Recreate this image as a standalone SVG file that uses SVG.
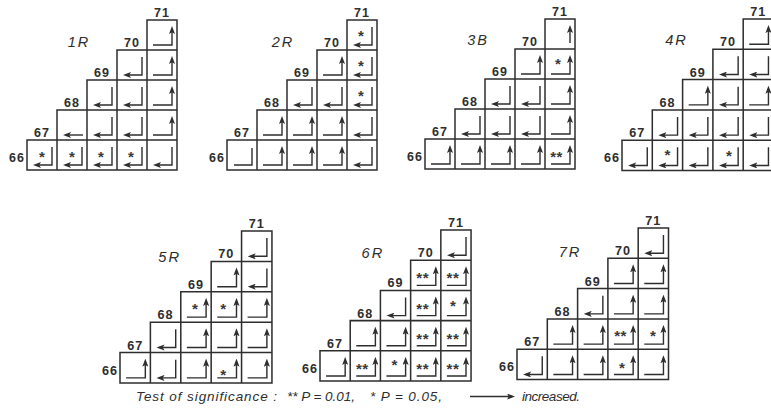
<svg xmlns="http://www.w3.org/2000/svg" width="771" height="416" viewBox="0 0 771 416">
<style>
.grid{fill:none;stroke:#2e2e2e;stroke-width:1.5}
.ar{fill:none;stroke:#2e2e2e;stroke-width:1.4}
.lab{font-family:"Liberation Sans",Arial,sans-serif;font-size:12.5px;font-weight:bold;fill:#2e2e2e;text-anchor:middle;letter-spacing:1px}
.lab66{font-family:"Liberation Sans",Arial,sans-serif;font-size:12.5px;font-weight:bold;fill:#2e2e2e;text-anchor:end;letter-spacing:1px}
.ttl{font-family:"Liberation Sans",Arial,sans-serif;font-size:14.5px;font-style:italic;fill:#2e2e2e;text-anchor:middle;letter-spacing:2px}
.st{font-family:"Liberation Sans",Arial,sans-serif;font-size:15px;font-weight:bold;fill:#3a3a3a;text-anchor:middle}
.st2{font-family:"Liberation Sans",Arial,sans-serif;font-size:15px;font-weight:bold;fill:#3a3a3a;text-anchor:middle;letter-spacing:0.5px}
.cap{font-family:"Liberation Sans",Arial,sans-serif;font-size:13.5px;font-style:italic;fill:#2e2e2e}
</style>
<defs>
<marker id="ah" viewBox="0 0 8 6" markerWidth="8" markerHeight="6" refX="5" refY="3" orient="auto" markerUnits="userSpaceOnUse"><path d="M0,0 L8,3 L0,6 L1.8,3 z" fill="#2e2e2e"/></marker>
<path id="gridpath" class="grid" d="M0,120 H30 V90 H60 V60 H90 V30 H120 V0 H150 V150 H0 Z M120,30 H150 M90,60 H150 M60,90 H150 M30,120 H150 M30,120 V150 M60,90 V150 M90,60 V150 M120,30 V150"/>
<path id="U" class="ar" d="M6,25 H25 V9" marker-end="url(#ah)"/>
<path id="L" class="ar" d="M25,7 V25 H9" marker-end="url(#ah)"/>
<path id="u" class="ar" d="M25,24 V9" marker-end="url(#ah)"/>
<path id="l" class="ar" d="M26,25 H9" marker-end="url(#ah)"/>
<path id="P" class="ar" d="M7,25 H25 V8"/>
</defs>
<rect width="771" height="416" fill="#fff"/>

<g id="grid-1R" transform="translate(27,20)">
<use href="#gridpath"/>
<text class="lab" x="135" y="-3">71</text>
<text class="lab" x="105" y="27">70</text>
<text class="lab" x="75" y="57">69</text>
<text class="lab" x="45" y="87">68</text>
<text class="lab" x="15" y="117">67</text>
<text class="lab66" x="-2" y="142">66</text>
<text class="ttl" x="52" y="27">1R</text>
<use href="#U" x="120" y="0"/>
<use href="#L" x="90" y="30"/><use href="#U" x="120" y="30"/>
<use href="#L" x="60" y="60"/><use href="#L" x="90" y="60"/><use href="#U" x="120" y="60"/>
<use href="#l" x="30" y="90"/><use href="#L" x="60" y="90"/><use href="#L" x="90" y="90"/><use href="#U" x="120" y="90"/>
<use href="#L" x="0" y="120"/><use href="#L" x="30" y="120"/><use href="#L" x="60" y="120"/><use href="#L" x="90" y="120"/><use href="#L" x="120" y="120"/>
<text class="st" x="15" y="141.5">*</text>
<text class="st" x="45" y="141.5">*</text>
<text class="st" x="74" y="141.5">*</text>
<text class="st" x="104" y="141.5">*</text>
</g>

<g id="grid-2R" transform="translate(227,20)">
<use href="#gridpath"/>
<text class="lab" x="135" y="-3">71</text>
<text class="lab" x="105" y="27">70</text>
<text class="lab" x="75" y="57">69</text>
<text class="lab" x="45" y="87">68</text>
<text class="lab" x="15" y="117">67</text>
<text class="lab66" x="-2" y="142">66</text>
<text class="ttl" x="56" y="27">2R</text>
<use href="#L" x="120" y="0"/>
<use href="#U" x="90" y="30"/><use href="#L" x="120" y="30"/>
<use href="#L" x="60" y="60"/><use href="#L" x="90" y="60"/><use href="#L" x="120" y="60"/>
<use href="#U" x="30" y="90"/><use href="#U" x="60" y="90"/><use href="#U" x="90" y="90"/><use href="#L" x="120" y="90"/>
<use href="#P" x="0" y="120"/><use href="#U" x="30" y="120"/><use href="#U" x="60" y="120"/><use href="#U" x="90" y="120"/><use href="#L" x="120" y="120"/>
<text class="st" x="134" y="20.5">*</text>
<text class="st" x="134" y="50.5">*</text>
<text class="st" x="134" y="80.5">*</text>
</g>

<g id="grid-3B" transform="translate(425,19)">
<use href="#gridpath"/>
<text class="lab" x="135" y="-3">71</text>
<text class="lab" x="105" y="27">70</text>
<text class="lab" x="75" y="57">69</text>
<text class="lab" x="45" y="87">68</text>
<text class="lab" x="15" y="117">67</text>
<text class="lab66" x="-2" y="142">66</text>
<text class="ttl" x="53" y="26">3B</text>
<use href="#u" x="120" y="0"/>
<use href="#U" x="90" y="30"/><use href="#U" x="120" y="30"/>
<use href="#L" x="60" y="60"/><use href="#L" x="90" y="60"/><use href="#U" x="120" y="60"/>
<use href="#L" x="30" y="90"/><use href="#L" x="60" y="90"/><use href="#L" x="90" y="90"/><use href="#U" x="120" y="90"/>
<use href="#U" x="0" y="120"/><use href="#U" x="30" y="120"/><use href="#U" x="60" y="120"/><use href="#U" x="90" y="120"/><use href="#U" x="120" y="120"/>
<text class="st" x="133" y="50">*</text>
<text class="st2" x="131.5" y="142.5">**</text>
</g>

<g id="grid-4R" transform="translate(622,19) scale(1.01)">
<use href="#gridpath"/>
<text class="lab" x="135" y="-3">71</text>
<text class="lab" x="105" y="27">70</text>
<text class="lab" x="75" y="57">69</text>
<text class="lab" x="45" y="87">68</text>
<text class="lab" x="15" y="117">67</text>
<text class="lab66" x="-2" y="142">66</text>
<text class="ttl" x="54" y="26">4R</text>
<use href="#U" x="120" y="0"/>
<use href="#L" x="90" y="30"/><use href="#L" x="120" y="30"/>
<use href="#U" x="60" y="60"/><use href="#L" x="90" y="60"/><use href="#U" x="120" y="60"/>
<use href="#L" x="30" y="90"/><use href="#L" x="60" y="90"/><use href="#L" x="90" y="90"/><use href="#L" x="120" y="90"/>
<use href="#L" x="0" y="120"/><use href="#L" x="30" y="120"/><use href="#L" x="60" y="120"/><use href="#L" x="90" y="120"/><use href="#L" x="120" y="120"/>
<text class="st" x="45" y="139.5">*</text>
<text class="st" x="106" y="141">*</text>
</g>

<g id="grid-5R" transform="translate(120,231) scale(1.013)">
<use href="#gridpath"/>
<text class="lab" x="135" y="-3">71</text>
<text class="lab" x="105" y="27">70</text>
<text class="lab" x="75" y="57">69</text>
<text class="lab" x="45" y="87">68</text>
<text class="lab" x="15" y="117">67</text>
<text class="lab66" x="-2" y="142">66</text>
<text class="ttl" x="49" y="31">5R</text>
<use href="#L" x="120" y="0"/>
<use href="#U" x="90" y="30"/><use href="#L" x="120" y="30"/>
<use href="#U" x="60" y="60"/><use href="#U" x="90" y="60"/><use href="#U" x="120" y="60"/>
<use href="#L" x="30" y="90"/><use href="#U" x="60" y="90"/><use href="#U" x="90" y="90"/><use href="#U" x="120" y="90"/>
<use href="#U" x="0" y="120"/><use href="#L" x="30" y="120"/><use href="#U" x="60" y="120"/><use href="#U" x="90" y="120"/><use href="#U" x="120" y="120"/>
<text class="st" x="74" y="81.5">*</text>
<text class="st" x="102" y="81.5">*</text>
<text class="st" x="102" y="147.5">*</text>
</g>

<g id="grid-6R" transform="translate(320,230) scale(1.007)">
<use href="#gridpath"/>
<text class="lab" x="135" y="-3">71</text>
<text class="lab" x="105" y="27">70</text>
<text class="lab" x="75" y="57">69</text>
<text class="lab" x="45" y="87">68</text>
<text class="lab" x="15" y="117">67</text>
<text class="lab66" x="-2" y="142">66</text>
<text class="ttl" x="52.5" y="28">6R</text>
<use href="#L" x="120" y="0"/>
<use href="#U" x="90" y="30"/><use href="#U" x="120" y="30"/>
<use href="#L" x="60" y="60"/><use href="#U" x="90" y="60"/><use href="#U" x="120" y="60"/>
<use href="#U" x="30" y="90"/><use href="#U" x="60" y="90"/><use href="#U" x="90" y="90"/><use href="#U" x="120" y="90"/>
<use href="#U" x="0" y="120"/><use href="#U" x="30" y="120"/><use href="#U" x="60" y="120"/><use href="#U" x="90" y="120"/><use href="#U" x="120" y="120"/>
<text class="st2" x="102" y="53">**</text>
<text class="st2" x="132" y="53">**</text>
<text class="st2" x="102" y="83">**</text>
<text class="st" x="132" y="80.5">*</text>
<text class="st2" x="102" y="113">**</text>
<text class="st2" x="132" y="113">**</text>
<text class="st2" x="42" y="143">**</text>
<text class="st" x="74" y="139">*</text>
<text class="st2" x="102" y="143">**</text>
<text class="st2" x="132" y="143">**</text>
</g>

<g id="grid-7R" transform="translate(517,228) scale(1.01)">
<use href="#gridpath"/>
<text class="lab" x="135" y="-3">71</text>
<text class="lab" x="105" y="27">70</text>
<text class="lab" x="75" y="57">69</text>
<text class="lab" x="45" y="87">68</text>
<text class="lab" x="15" y="117">67</text>
<text class="lab66" x="-2" y="142">66</text>
<text class="ttl" x="52.5" y="29">7R</text>
<use href="#L" x="120" y="0"/>
<use href="#U" x="90" y="30"/><use href="#U" x="120" y="30"/>
<use href="#L" x="60" y="60"/><use href="#U" x="90" y="60"/><use href="#U" x="120" y="60"/>
<use href="#U" x="30" y="90"/><use href="#U" x="60" y="90"/><use href="#U" x="90" y="90"/><use href="#U" x="120" y="90"/>
<use href="#L" x="0" y="120"/><use href="#U" x="30" y="120"/><use href="#U" x="60" y="120"/><use href="#U" x="90" y="120"/><use href="#U" x="120" y="120"/>
<text class="st2" x="102.5" y="111.5">**</text>
<text class="st" x="134.5" y="111.5">*</text>
<text class="st" x="104" y="144">*</text>
</g>

<g id="legend">
<text class="cap" x="136" y="401" textLength="141" lengthAdjust="spacing">Test of significance :</text>
<text class="cap" x="287" y="401" textLength="68" lengthAdjust="spacing">** P = 0.01,</text>
<text class="cap" x="370" y="401" textLength="72" lengthAdjust="spacing">* P = 0.05,</text>
<path class="ar" d="M470,396.5 H512" marker-end="url(#ah)"/>
<text class="cap" x="522" y="401" textLength="58" lengthAdjust="spacing">increased.</text>
</g>
</svg>
